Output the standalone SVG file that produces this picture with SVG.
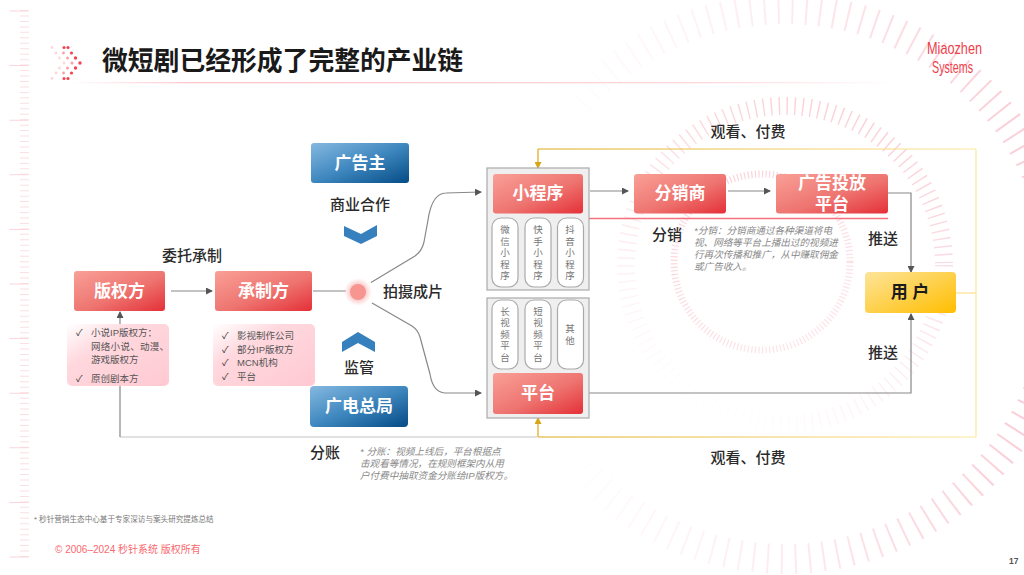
<svg xmlns="http://www.w3.org/2000/svg" width="1024" height="575" viewBox="0 0 1024 575">
<style>
text{font-family:"Liberation Sans","Noto Sans CJK SC",sans-serif}
.b{font-size:15px;font-weight:500;fill:#2a2a2a;text-anchor:middle}
.w{font-size:17px;font-weight:700;fill:#fff;text-anchor:middle}
.n{font-size:9.6px;font-style:italic;fill:#888}
.l{font-size:9.5px;fill:#555}
.c{font-size:9.5px;fill:#333}
.p{font-size:9.5px;fill:#777;text-anchor:middle}
.pill{fill:#fff;stroke:#aaa;stroke-width:1.2}
.box{fill:#efefef;stroke:#aaa;stroke-width:1.2}
.g{fill:none;stroke:#888;stroke-width:1.2}
.y{fill:none;stroke-width:1.2}
.red{fill:url(#red)}
.blue{fill:url(#blue)}
.chev{fill:#3580bd;filter:url(#soft)}
</style>
<defs>
<linearGradient id="red" x1="0" y1="0" x2="1" y2="1"><stop offset="0" stop-color="#f9a097"/><stop offset=".55" stop-color="#ee7470"/><stop offset="1" stop-color="#e43037"/></linearGradient>
<linearGradient id="blue" x1="0" y1="0" x2="1" y2="1"><stop offset="0" stop-color="#85b9e0"/><stop offset=".5" stop-color="#3f87bf"/><stop offset="1" stop-color="#054c86"/></linearGradient>
<linearGradient id="yel" x1="0" y1="0" x2="1" y2="1"><stop offset="0" stop-color="#fde49a"/><stop offset="1" stop-color="#ffbe00"/></linearGradient>
<linearGradient id="pk" x1="0" y1="0" x2="1" y2="1"><stop offset="0" stop-color="#fff"/><stop offset=".35" stop-color="#ffd8de"/><stop offset="1" stop-color="#ffc9d2"/></linearGradient>
<linearGradient id="hl" x1="0" y1="0" x2="1" y2="0"><stop offset="0" stop-color="#ffc5cd" stop-opacity="0"/><stop offset=".15" stop-color="#ffc5cd"/><stop offset=".75" stop-color="#ffd5da"/><stop offset="1" stop-color="#ffd5da" stop-opacity="0"/></linearGradient>
<linearGradient id="ya" gradientUnits="userSpaceOnUse" x1="538" y1="0" x2="976" y2="0"><stop offset="0" stop-color="#dda916"/><stop offset="1" stop-color="#ffe79d"/></linearGradient>
<linearGradient id="r1" gradientUnits="userSpaceOnUse" x1="700" y1="170" x2="800" y2="350"><stop offset="0" stop-color="#f9c6d0" stop-opacity=".8"/><stop offset="1" stop-color="#f9c6d0" stop-opacity=".45"/></linearGradient>
<linearGradient id="r2" gradientUnits="userSpaceOnUse" x1="830" y1="120" x2="700" y2="400"><stop offset="0" stop-color="#f9c6d0" stop-opacity=".8"/><stop offset=".6" stop-color="#f9c6d0" stop-opacity=".35"/><stop offset="1" stop-color="#f9c6d0" stop-opacity=".03"/></linearGradient>
<linearGradient id="r3" gradientUnits="userSpaceOnUse" x1="1020" y1="284" x2="560" y2="284"><stop offset="0" stop-color="#f9c6d0" stop-opacity=".85"/><stop offset=".45" stop-color="#f9c6d0" stop-opacity=".4"/><stop offset="1" stop-color="#f9c6d0" stop-opacity="0"/></linearGradient>
<radialGradient id="glow"><stop offset=".5" stop-color="#fbc4c4"/><stop offset="1" stop-color="#fbd0d0" stop-opacity="0"/></radialGradient>
<filter id="soft" x="-30%" y="-30%" width="160%" height="160%"><feGaussianBlur stdDeviation=".5"/></filter>
<marker id="ah" markerWidth="7" markerHeight="7" refX="6" refY="3.5" orient="auto" markerUnits="userSpaceOnUse"><path d="M0 0L7 3.5L0 7z" fill="#555"/></marker>
<marker id="ay" markerWidth="7" markerHeight="7" refX="6" refY="3.5" orient="auto" markerUnits="userSpaceOnUse"><path d="M0 0L7 3.5L0 7z" fill="#d8a514"/></marker>
</defs>
<rect width="1024" height="575" fill="#fff"/>
<g id="decor">
<line x1="24.5" y1="10" x2="24.5" y2="560" stroke="#fbdfe3" stroke-width="9" stroke-dasharray="1 4.46"/>
<line x1="19" y1="10.5" x2="19" y2="560" stroke="#fbd5da" stroke-width="19" stroke-dasharray="1 53.6"/>
<g fill="none">
<circle cx="762" cy="262" r="88" stroke="url(#r1)" stroke-width="7" stroke-dasharray="1.2 2.4"/>
<circle cx="785" cy="265" r="159" stroke="url(#r2)" stroke-width="18" stroke-dasharray="1.4 6.5"/>
<circle cx="785" cy="284" r="275" stroke="url(#r3)" stroke-width="30" stroke-dasharray="2 12"/>
</g>
<rect x="70" y="82" width="830" height="1.3" fill="url(#hl)"/>
</g>
<g id="header">
<g fill="#f7424f">
<circle cx="80" cy="63" r="1.7"/><circle cx="75.500" cy="58" r="1.7"/><circle cx="75.500" cy="68" r="1.700"/><circle cx="71.500" cy="53" r="1.6"/><circle cx="71.500" cy="73" r="1.6"/><circle cx="68" cy="47.500" r="1.6"/><circle cx="68" cy="78.500" r="1.6"/><circle cx="64" cy="47.500" r="1.5"/><circle cx="64" cy="78.500" r="1.5"/>
<g opacity=".5"><circle cx="72" cy="63" r="1.5"/><circle cx="67.500" cy="58" r="1.5"/><circle cx="67.500" cy="68" r="1.5"/><circle cx="63.500" cy="53" r="1.4"/><circle cx="63.500" cy="73" r="1.4"/></g>
<g opacity=".2"><circle cx="64" cy="63" r="1.4"/><circle cx="59.500" cy="58" r="1.4"/><circle cx="59.500" cy="68" r="1.4"/><circle cx="56" cy="53" r="1.4"/><circle cx="56" cy="73" r="1.4"/><circle cx="52" cy="47.500" r="1.4"/><circle cx="52" cy="78.500" r="1.4"/></g>
</g>
<text x="102" y="69.500" font-size="25.800" font-weight="700" fill="#1a1a1a">微短剧已经形成了完整的产业链</text>
<g fill="#ee3e4b">
<text x="927" y="54" font-size="17" textLength="55" lengthAdjust="spacingAndGlyphs">Miaozhen</text>
<text x="932" y="73" font-size="17" textLength="41" lengthAdjust="spacingAndGlyphs">Systems</text>
</g>
</g>
<g id="connectors">
<path class="g" marker-end="url(#ah)" d="M171 291H212"/>
<path class="g" d="M313 291H346"/>
<path class="g" d="M371 282.500L415 256Q422 251 424 242L428 220Q432 193 446 193L481 192" marker-end="url(#ah)"/>
<path class="g" d="M372 303L412 326Q418 330 420 337L430 374Q433 393 446 393H481" marker-end="url(#ah)"/>
<path class="g" style="stroke:#c4c4c4" d="M120 437H537"/>
<path class="g" marker-end="url(#ah)" d="M120 437V312"/>
<path class="g" marker-end="url(#ah)" d="M590 191H628"/>
<path class="g" marker-end="url(#ah)" d="M728 191H770"/>
<path d="M589 218.500H888" stroke="#f4727f" stroke-width="1.500" fill="none"/>
<path class="g" marker-end="url(#ah)" d="M888 193H911V272"/>
<path class="g" marker-end="url(#ah)" d="M589 393H911V314"/>
<path class="y" stroke="#ffe08a" d="M956 293H976"/>
<path class="y" stroke="url(#ya)" d="M976 149H538"/>
<path class="y" stroke="url(#ya)" d="M976 437H538"/>
<path class="y" stroke="#ffe79d" d="M976 149V437"/>
<path class="y" stroke="#dda916" marker-end="url(#ay)" d="M538 149V168"/>
<path class="y" stroke="#dda916" marker-end="url(#ay)" d="M538 437V418"/>
</g>
<g id="banquan"><rect class="red" x="74" y="271" width="91" height="40" rx="3"/><text class="w" x="119.500" y="297">版权方</text></g>
<g id="banquan-list"><rect fill="url(#pk)" x="67" y="324" width="102" height="62" rx="5"/>
<text class="c" x="76" y="336">✓</text><text class="l" x="91" y="336">小说IP版权方：</text><text class="l" x="91" y="349.500" letter-spacing=".3">网络小说、动漫、</text><text class="l" x="91" y="363">游戏版权方</text><text class="c" x="76" y="382">✓</text><text class="l" x="91" y="382">原创剧本方</text></g>
<g id="chengzhi"><rect class="red" x="215" y="271" width="97" height="40" rx="3"/><text class="w" x="263.500" y="297">承制方</text></g>
<g id="chengzhi-list"><rect fill="url(#pk)" x="213" y="324" width="102" height="62" rx="5"/>
<text class="c" x="222" y="338.500">✓</text><text class="l" x="237" y="338.500">影视制作公司</text><text class="c" x="222" y="352.500">✓</text><text class="l" x="237" y="352.500">部分IP版权方</text><text class="c" x="222" y="365.500">✓</text><text class="l" x="237" y="365.500">MCN机构</text><text class="c" x="222" y="379.500">✓</text><text class="l" x="237" y="379.500">平台</text></g>
<text class="b" x="192" y="261">委托承制</text>
<g id="paishe"><circle cx="358" cy="292" r="14" fill="url(#glow)"/><circle cx="358" cy="292" r="8" fill="#f79590"/><text class="b" x="413" y="297">拍摄成片</text></g>
<g id="guanggaozhu"><rect class="blue" x="311" y="143" width="98" height="40" rx="3"/><text class="w" x="360" y="169" font-size="16">广告主</text></g>
<text class="b" x="360" y="210">商业合作</text>
<path id="chev-down" class="chev" d="M344 226L361 234L377 225V236L361 244L344 236Z"/>
<path id="chev-up" class="chev" d="M358 332L375 342V352L358 343L342 352V342Z"/>
<text class="b" x="359" y="373">监管</text>
<g id="guangdian"><rect class="blue" x="310" y="386" width="98" height="41" rx="4"/><text class="w" x="359" y="412" font-size="16">广电总局</text></g>
<text class="b" x="325" y="458">分账</text>
<g><text class="n" x="360" y="455">* 分账：视频上线后，平台根据点</text><text class="n" x="360" y="467">击观看等情况，在规则框架内从用</text><text class="n" x="360" y="479">户付费中抽取资金分账给IP版权方。</text></g>
<g id="xiaochengxu"><rect class="box" x="487" y="168" width="102" height="122"/><rect class="red" x="493" y="174" width="90" height="39.500" rx="3"/><text class="w" x="538" y="199">小程序</text>
<rect class="pill" x="492" y="218" width="26" height="69" rx="9"/><rect class="pill" x="525" y="218" width="26" height="69" rx="9"/><rect class="pill" x="557.500" y="218" width="26" height="69" rx="9"/>
<g><text class="p" x="505" y="233">微</text><text class="p" x="505" y="245">信</text><text class="p" x="505" y="256">小</text><text class="p" x="505" y="268">程</text><text class="p" x="505" y="279">序</text>
<text class="p" x="538" y="233">快</text><text class="p" x="538" y="245">手</text><text class="p" x="538" y="256">小</text><text class="p" x="538" y="268">程</text><text class="p" x="538" y="279">序</text>
<text class="p" x="570" y="233">抖</text><text class="p" x="570" y="245">音</text><text class="p" x="570" y="256">小</text><text class="p" x="570" y="268">程</text><text class="p" x="570" y="279">序</text></g></g>
<g id="pingtai"><rect class="box" x="487" y="298" width="102" height="120"/><rect class="red" x="493" y="373" width="90" height="41" rx="3"/><text class="w" x="538" y="399">平台</text>
<rect class="pill" x="492" y="300" width="26" height="69" rx="9"/><rect class="pill" x="525" y="300" width="26" height="69" rx="9"/><rect class="pill" x="557.500" y="300" width="26" height="69" rx="9"/>
<g><text class="p" x="505" y="315">长</text><text class="p" x="505" y="326">视</text><text class="p" x="505" y="338">频</text><text class="p" x="505" y="349">平</text><text class="p" x="505" y="361">台</text>
<text class="p" x="538" y="315">短</text><text class="p" x="538" y="326">视</text><text class="p" x="538" y="338">频</text><text class="p" x="538" y="349">平</text><text class="p" x="538" y="361">台</text>
<text class="p" x="570" y="332">其</text><text class="p" x="570" y="344">他</text></g></g>
<g id="fenxiao"><rect class="red" x="634" y="174" width="92" height="39.500" rx="3"/><text class="w" x="680" y="199">分销商</text></g>
<g id="toufang"><rect class="red" x="776" y="174" width="112" height="39.500" rx="3"/><text class="w" x="832" y="189">广告投放</text><text class="w" x="832" y="209.500">平台</text></g>
<text class="b" x="667" y="240">分销</text>
<g><text class="n" x="694" y="234">*分销：分销商通过各种渠道将电</text><text class="n" x="694" y="246">视、网络等平台上播出过的视频进</text><text class="n" x="694" y="258">行再次传播和推广，从中赚取佣金</text><text class="n" x="694" y="270">或广告收入。</text></g>
<g id="yonghu"><rect fill="url(#yel)" x="865" y="272" width="91" height="41" rx="4"/><text x="910" y="298" font-size="17" font-weight="700" fill="#1a1a1a" text-anchor="middle">用 户</text></g>
<text class="b" x="748" y="137">观看、付费</text>
<text class="b" x="748" y="463">观看、付费</text>
<text class="b" x="883" y="244">推送</text>
<text class="b" x="883" y="358">推送</text>
<text x="34" y="522" font-size="7.600" fill="#777">* 秒针营销生态中心基于专家深访与案头研究提炼总结</text>
<text x="55" y="553" font-size="10" fill="#f8696f">© 2006–2024 秒针系统 版权所有</text>
<text x="1009" y="564" font-size="8.500" font-weight="700" fill="#555">17</text>
</svg>
